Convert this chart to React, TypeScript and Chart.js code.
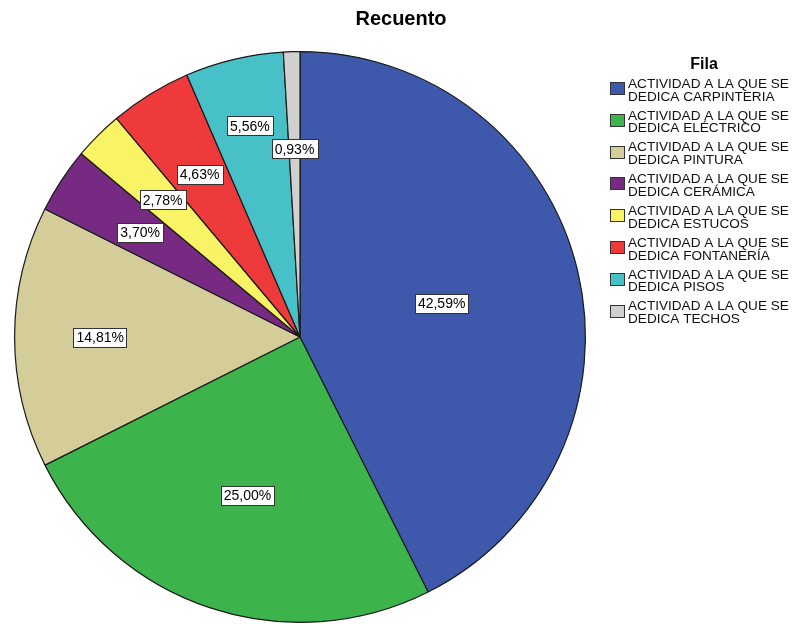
import React, { useEffect, useRef } from "react";
import { Chart, registerables } from "chart.js";

Chart.register(...registerables);

const title = "Recuento";
const legendTitle = "Fila";
const categories = [
  "ACTIVIDAD A LA QUE SE DEDICA CARPINTERIA",
  "ACTIVIDAD A LA QUE SE DEDICA ELÉCTRICO",
  "ACTIVIDAD A LA QUE SE DEDICA PINTURA",
  "ACTIVIDAD A LA QUE SE DEDICA CERÁMICA",
  "ACTIVIDAD A LA QUE SE DEDICA ESTUCOS",
  "ACTIVIDAD A LA QUE SE DEDICA FONTANERÍA",
  "ACTIVIDAD A LA QUE SE DEDICA PISOS",
  "ACTIVIDAD A LA QUE SE DEDICA TECHOS",
];
const percents = [42.59, 25.0, 14.81, 3.7, 2.78, 4.63, 5.56, 0.93];
const colors = [
  "#3e58ac",
  "#3cb44b",
  "#d5cd99",
  "#762a81",
  "#f9f466",
  "#ee3a3a",
  "#48c0c7",
  "#d0d0d0",
];
// label radius as fraction of outer radius (layout only)
const labelRadius = [0.51, 0.585, 0.7, 0.67, 0.68, 0.67, 0.76, 0.66];

const FONT = '"Liberation Sans", Arial, sans-serif';

function fmt(v: number) {
  return v.toFixed(2).replace(".", ",") + "%";
}

const overlayPlugin = {
  id: "overlay",
  afterDatasetsDraw(chart: any) {
    const ctx = chart.ctx;
    const meta = chart.getDatasetMeta(0);
    ctx.save();
    // slice labels
    ctx.font = `14px ${FONT}`;
    ctx.textAlign = "center";
    ctx.textBaseline = "middle";
    meta.data.forEach((arc: any, i: number) => {
      const p = arc.getProps(["x", "y", "startAngle", "endAngle", "outerRadius"], true);
      const mid = (p.startAngle + p.endAngle) / 2;
      const r = p.outerRadius * labelRadius[i];
      const cx = p.x + Math.cos(mid) * r;
      const cy = p.y + Math.sin(mid) * r;
      const txt = fmt(chart.data.datasets[0].data[i]);
      const w = ctx.measureText(txt).width + 6;
      const h = 19;
      ctx.fillStyle = "#ffffff";
      ctx.fillRect(Math.round(cx - w / 2), Math.round(cy - h / 2), Math.round(w), h);
      ctx.strokeStyle = "#333333";
      ctx.lineWidth = 1;
      ctx.strokeRect(Math.round(cx - w / 2) + 0.5, Math.round(cy - h / 2) + 0.5, Math.round(w), h);
      ctx.fillStyle = "#000000";
      ctx.fillText(txt, cx, cy + 1);
    });
    // title
    ctx.font = `bold 20px ${FONT}`;
    ctx.fillStyle = "#000";
    ctx.fillText(title, 401, 19);
    // legend
    ctx.font = `bold 16px ${FONT}`;
    ctx.fillText(legendTitle, 704, 65);
    ctx.textAlign = "left";
    ctx.font = `13.6px ${FONT}`;
    const labels = chart.data.labels as string[];
    labels.forEach((lab, i) => {
      const y0 = 84 + i * 31.8;
      const idx = lab.indexOf(" DEDICA");
      const l1 = lab.slice(0, idx);
      const l2 = lab.slice(idx + 1);
      ctx.fillStyle = colors[i];
      ctx.fillRect(610, Math.round(y0 - 2), 15, 13);
      ctx.strokeStyle = "#333";
      ctx.strokeRect(610.5, Math.round(y0 - 2) + 0.5, 14, 12);
      ctx.fillStyle = "#111";
      ctx.fillText(l1, 628, y0);
      ctx.fillText(l2, 628, y0 + 12.8);
    });
    ctx.restore();
  },
};

export default function App() {
  const ref = useRef<HTMLCanvasElement | null>(null);
  useEffect(() => {
    if (!ref.current) return;
    const chart = new Chart(ref.current, {
      type: "pie",
      data: {
        labels: categories,
        datasets: [
          {
            data: percents,
            backgroundColor: colors,
            borderColor: "#1a1a1a",
            borderWidth: 1.2,
          },
        ],
      },
      options: {
        responsive: false,
        animation: false,
        layout: { padding: { left: 14, right: 208, top: 51, bottom: 1 } },
        plugins: {
          legend: { display: false },
          tooltip: { enabled: false },
          title: { display: false },
        },
      },
      plugins: [overlayPlugin],
    });
    return () => chart.destroy();
  }, []);
  return (
    <div style={{ position: "absolute", left: 0, top: 0, width: 794, height: 624, background: "#fff" }}>
      <canvas ref={ref} width={794} height={624} style={{ display: "block" }} />
    </div>
  );
}
